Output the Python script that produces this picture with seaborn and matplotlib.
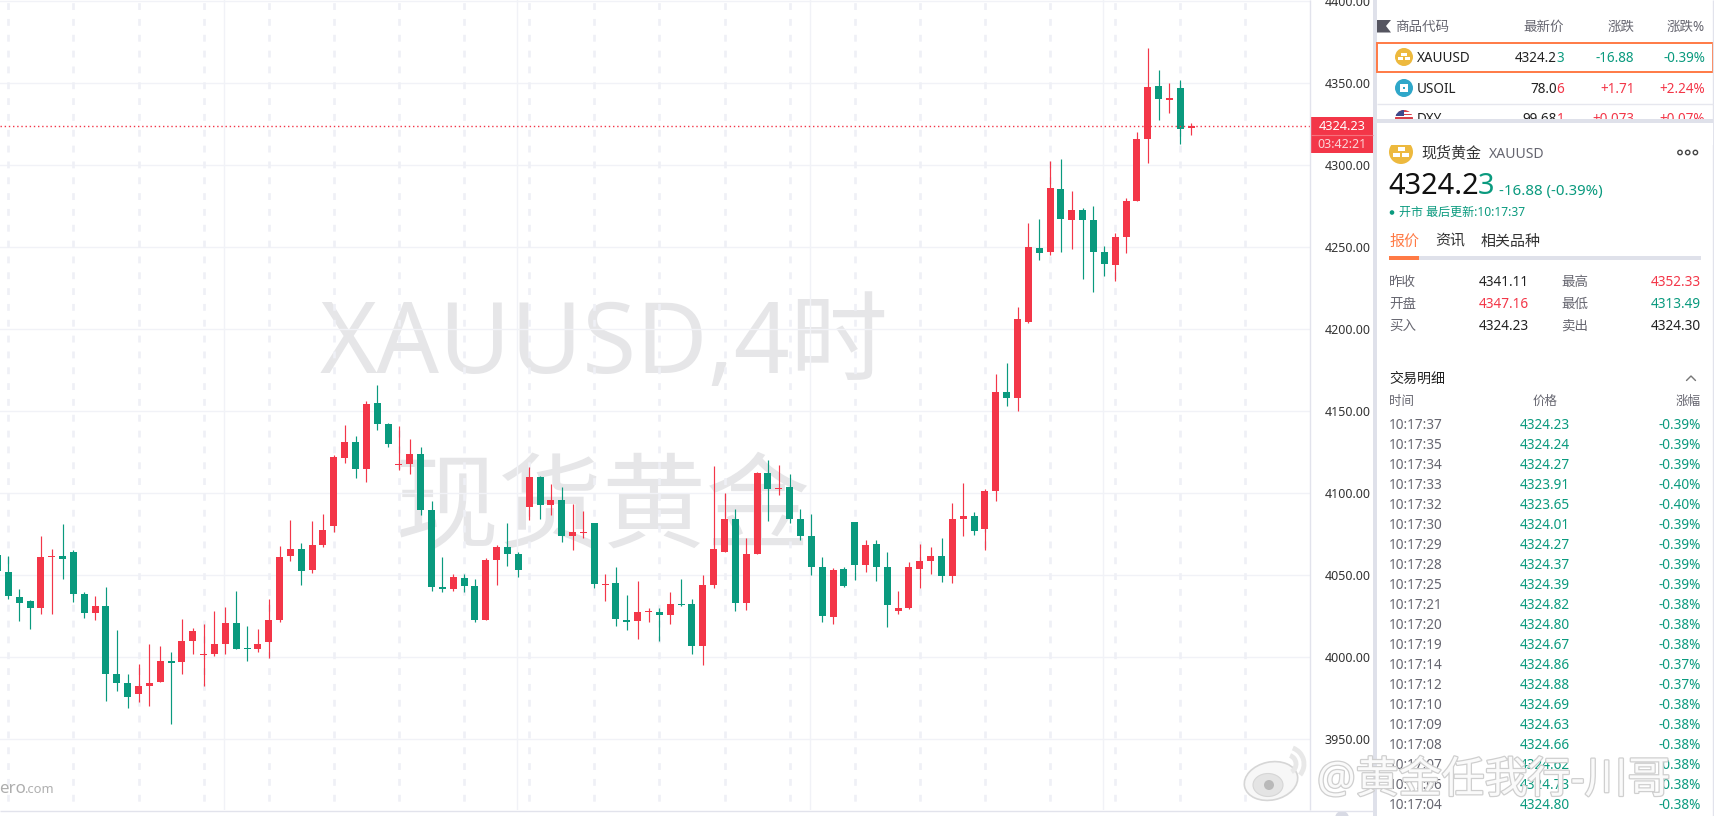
import numpy as np
import pandas as pd
import seaborn as sns
import matplotlib
matplotlib.use("Agg")
import matplotlib.pyplot as plt
import matplotlib.patheffects as pe
from matplotlib.patches import Rectangle, Circle, Ellipse, Arc

# ---------- data ----------
opens = [4062.4,
 4052.0,4036.7,4034.3,4030.0,4061.1,4061.7,4064.2,4038.6,4027.0,
 4031.3,3989.8,3984.3,3977.6,3982.5,3984.9,3997.7,3997.1,4009.9,4001.4,
 4002.0,4008.1,4020.9,4005.6,4005.0,4009.3,4022.7,4061.7,4066.0,4053.2,
 4068.5,4080.0,4121.5,4131.3,4114.8,4155.1,4142.3,4117.2,4117.9,4124.0,
 4089.8,4042.8,4041.6,4048.3,4043.4,4022.7,4059.3,4067.2,4063.0,4091.6,
 4109.9,4092.9,4095.9,4073.9,4075.8,4081.9,4044.1,4045.3,4022.7,4022.1,
 4027.6,4027.6,4025.8,4032.5,4032.5,4006.9,4044.1,4064.2,4084.3,4033.1,
 4063.0,4112.4,4102.6,4103.8,4084.3,4073.9,4055.0,4024.5,4053.8,4082.5,
 4056.3,4069.1,4054.9,4028.1,4029.9,4053.8,4058.7,4061.8,4049.6,4084.3,
 4086.2,4078.2,4101.4,4161.8,4158.1,4204.5,4249.5,4247.1,4285.5,4266.6,
 4272.7,4266.6,4247.1,4239.2,4256.3,4278.2,4316.0,4348.3,4339.8,4347.1,4322.7]
closes = [4052.8,
 4037.5,4033.3,4030.0,4061.1,4061.7,4059.9,4038.6,4027.0,4031.3,
 3989.8,3984.3,3975.8,3982.5,3984.3,3997.7,3996.5,4009.9,4016.0,4002.0,
 4008.1,4020.9,4005.0,4005.0,4008.1,4022.7,4061.1,4066.0,4052.6,4068.5,
 4077.6,4122.1,4131.3,4114.8,4154.5,4142.3,4130.1,4117.9,4124.0,4089.8,
 4042.8,4041.6,4049.0,4043.4,4022.7,4059.3,4067.2,4063.0,4053.2,4109.9,
 4092.9,4095.9,4073.9,4076.4,4076.4,4044.7,4044.7,4023.3,4021.5,4027.6,
 4028.2,4025.8,4032.5,4031.7,4006.9,4044.1,4066.0,4084.3,4033.1,4063.0,
 4112.4,4102.6,4103.2,4084.3,4073.9,4055.0,4025.2,4053.2,4043.4,4056.3,
 4068.5,4055.0,4031.7,4029.9,4054.9,4058.7,4061.8,4049.6,4084.3,4086.2,
 4077.0,4101.4,4161.8,4158.1,4206.3,4250.2,4246.5,4286.1,4267.2,4272.7,
 4266.6,4247.1,4239.8,4256.3,4278.2,4316.0,4347.7,4340.4,4341.0,4322.1,4324.0]
highs = [4064.0,
 4061.7,4041.6,4034.9,4073.9,4066.0,4081.3,4065.4,4039.8,4037.3,
 4042.8,4016.6,3989.8,3995.9,4008.1,4006.9,4003.2,4023.3,4017.8,4020.3,
 4028.2,4030.6,4040.4,4019.0,4017.2,4035.5,4067.8,4083.7,4069.7,4083.1,
 4087.4,4123.3,4141.6,4134.9,4156.3,4166.0,4142.9,4141.0,4133.1,4128.2,
 4095.3,4061.1,4050.8,4050.8,4047.7,4060.5,4068.5,4081.9,4064.2,4116.0,
 4110.5,4105.7,4103.8,4093.5,4089.2,4081.9,4050.8,4055.0,4038.0,4046.5,
 4030.0,4030.0,4039.8,4047.7,4035.5,4050.2,4116.6,4100.2,4090.4,4072.7,
 4113.0,4120.3,4117.2,4111.8,4090.4,4087.4,4061.1,4054.4,4055.0,4082.5,
 4071.5,4071.5,4064.1,4040.3,4058.0,4069.1,4067.2,4072.7,4094.1,4106.3,
 4088.6,4102.6,4172.8,4179.5,4213.6,4264.8,4267.2,4302.6,4303.8,4284.3,
 4273.9,4275.2,4250.8,4258.7,4280.0,4320.3,4371.5,4358.1,4350.2,4352.0,4325.8]
lows = [4048.0,
 4035.7,4022.3,4017.4,4026.4,4026.4,4047.7,4033.7,4023.9,4022.7,
 3973.3,3979.4,3969.0,3972.7,3970.3,3984.9,3959.3,3989.8,4002.0,3982.5,
 4000.8,4002.0,4005.0,3997.7,4003.2,3999.5,4021.5,4058.7,4044.1,4051.4,
 4067.2,4076.4,4118.5,4109.3,4106.9,4138.6,4128.2,4114.2,4111.8,4086.8,
 4040.4,4039.8,4040.4,4039.8,4021.5,4022.7,4044.1,4055.6,4048.9,4083.7,
 4084.3,4086.7,4070.3,4065.4,4072.7,4042.2,4034.3,4019.0,4016.6,4011.1,
 4021.5,4009.9,4020.3,4031.3,4002.0,3995.3,4042.2,4064.2,4028.2,4028.8,
 4063.0,4083.1,4099.0,4081.9,4071.5,4050.2,4021.5,4020.3,4042.8,4047.1,
 4052.0,4046.5,4018.3,4026.3,4029.3,4042.2,4050.8,4045.9,4045.3,4073.9,
 4074.6,4065.4,4095.3,4153.2,4150.2,4203.9,4242.2,4245.3,4247.1,4248.9,
 4230.6,4222.7,4232.5,4229.4,4246.5,4278.2,4301.4,4327.6,4331.9,4313.0,4318.5]
price_ticks = [3950, 4000, 4050, 4100, 4150, 4200, 4250, 4300, 4350, 4400]
last_price = 4324.23

watch_rows = [("XAUUSD", "4324.2", "3", "-16.88", "-0.39%"),
              ("USOIL", "78.0", "6", "+1.71", "+2.24%"),
              ("DXY", "99.68", "1", "+0.073", "+0.07%")]
quote_rows = [("昨收", "4341.11", "最高", "4352.33"),
              ("开盘", "4347.16", "最低", "4313.49"),
              ("买入", "4324.23", "卖出", "4324.30")]
trade_times = ["10:17:37","10:17:35","10:17:34","10:17:33","10:17:32","10:17:30","10:17:29",
               "10:17:28","10:17:25","10:17:21","10:17:20","10:17:19","10:17:14","10:17:12",
               "10:17:10","10:17:09","10:17:08","10:17:07","10:17:06","10:17:04"]
trade_prices = ["4324.23","4324.24","4324.27","4323.91","4323.65","4324.01","4324.27",
                "4324.37","4324.39","4324.82","4324.80","4324.67","4324.86","4324.88",
                "4324.69","4324.63","4324.66","4324.62","4324.73","4324.80"]
trade_pcts = ["-0.39%","-0.39%","-0.39%","-0.40%","-0.40%","-0.39%","-0.39%","-0.39%","-0.39%",
              "-0.38%","-0.38%","-0.38%","-0.37%","-0.37%","-0.38%","-0.38%","-0.38%","-0.38%",
              "-0.38%","-0.38%"]

# ---------- style ----------
RED, GREEN = "#f33648", "#0a9a7e"
ORANGE, GOLD, GREY = "#ff7a45", "#edb93e", "#dfe1ea"
GRID, WM = "#f1f2f7", "#e6e6e8"
DARK, MID = "#222222", "#666670"

sns.set_theme(style="white")
FONT = ["Noto Sans", "Noto Sans CJK SC"]
plt.rcParams["font.family"] = FONT
W, H = 1714, 816
fig = plt.figure(figsize=(W / 100, H / 100), dpi=100, facecolor="white")


def px_axes(z):
    a = fig.add_axes([0, 0, 1, 1], zorder=z)
    a.set_xlim(0, W)
    a.set_ylim(H, 0)
    a.axis("off")
    a.patch.set_alpha(0)
    return a


bg = px_axes(0)
top = px_axes(2)


def T(x, y, s, px=13.6, color=DARK, ha="left", ax=None, **kw):
    return (ax or top).text(x, y + px * 0.36, s, fontsize=px * 0.72, color=color,
                            ha=ha, va="baseline", **kw)


# big chart watermark
T(320, 337.5, "XAUUSD,4时", 98, WM, ax=bg)
T(395, 503, "现货黄金", 104, WM, ax=bg, family="Noto Sans CJK SC")

# ---------- chart ----------
ax = fig.add_axes([0, 6 / H, 1310.5 / W, 810 / H], zorder=1)
ax.patch.set_alpha(0)
df = pd.DataFrame({"i": np.arange(len(opens)), "o": opens, "h": highs, "l": lows, "c": closes})
df["up"] = df.c >= df.o
df["bottom"] = df[["o", "c"]].min(axis=1)
df["height"] = (df.o - df.c).abs()

ax.hlines(price_ticks, -5, 130, color=GRID, lw=1, zorder=1)
ax.vlines(np.arange(1, 121, 6), 3800, 4500, color="#eff0f6", lw=1.9, linestyles=(0, (2.6, 3.4)), zorder=1)
ax.vlines(np.arange(20.9, 121, 27), 3800, 4500, color=GRID, lw=1, zorder=1)
ax.vlines(df.i, df.l, df.h, colors=np.where(df.up, RED, GREEN), lw=0.85, zorder=3)
for is_up, col in ((True, RED), (False, GREEN)):
    sub = df[df.up == is_up]
    sns.barplot(data=sub, x="i", y="height", bottom=sub["bottom"].values, native_scale=True,
                width=0.645, color=col, saturation=1, errorbar=None, linewidth=0,
                legend=False, ax=ax, zorder=4)
ax.axhline(last_price, color=RED, lw=1, ls=(0, (1, 2)), zorder=5)

ax.set_xlim(0.235, 121.0)
ax.set_ylim(3906.9, 4400.8)
ax.set_xlabel("")
ax.set_ylabel("")
ax.set_xticks([])
ax.set_yticks(price_ticks, [f"{p:.2f}" for p in price_ticks])
ax.yaxis.tick_right()
ax.tick_params(axis="y", length=0, pad=10, labelsize=9, labelcolor="#333333")
for s in ax.spines.values():
    s.set_visible(False)

T(-1, 787, "ero", 17, "#aeaeae", ax=top, fontweight="bold")
T(24, 788, ".com", 13, "#b0b0b0", ax=top)

# ---------- frame ----------
top.vlines(1310.5, 0, 810, color="#e2e3ec", lw=1)
top.hlines(810.5, 0, 1373, color="#e2e3ec", lw=1)
top.add_patch(Rectangle((1373, 0), 4, H, color=GREY, lw=0))
top.vlines(1713.5, 0, H, color="#e2e3ec", lw=1)
top.add_patch(Circle((1342, 818), 7, color="#d8dae4", lw=0, clip_on=True))

# price tag
top.add_patch(Rectangle((1311, 117), 62, 36, color=RED, lw=0))
top.hlines(134.5, 1311, 1373, color="#f6717d", lw=0.8)
T(1342, 125.5, "4324.23", 12.8, "white", ha="center", zorder=5)
T(1342, 143.5, "03:42:21", 12.5, "#fbd5d8", ha="center", zorder=5)


def gold_icon(cx, cy, r):
    top.add_patch(Circle((cx, cy), r, color=GOLD, lw=0))
    u = r / 9
    for dx, dy in ((-2.6, -3.6), (-6.2, 0.4), (0.9, 0.4)):
        top.add_patch(Rectangle((cx + dx * u, cy + dy * u), 5.3 * u, 3 * u, color="white", lw=0))


# ---------- watchlist ----------
top.add_patch(plt.Polygon([(1377, 20), (1391, 20), (1386, 26), (1391, 32.5), (1377, 32.5)], color="#555560", lw=0))
T(1395, 26, "商品代码", 13.5, MID)
T(1564, 26, "最新价", 13.5, MID, ha="right")
T(1634.5, 26, "涨跌", 13.5, MID, ha="right")
T(1705, 26, "涨跌%", 13.5, MID, ha="right")

top.add_patch(Rectangle((1377.5, 42.5), 335.5, 29, fill=False, ec=ORANGE, lw=1.4))
top.hlines([103.5], 1377, 1713, color="#e6e7ee", lw=1)
gold_icon(1404, 57, 9)
top.add_patch(Circle((1404, 88), 9, color="#2fa7c9", lw=0))
top.add_patch(Rectangle((1400, 84), 8, 8, color="white", lw=0))
top.add_patch(Rectangle((1402.7, 86.7), 2.6, 2.6, color="#2fa7c9", lw=0))
flag = Circle((1404, 119), 9, color="white", lw=0)
top.add_patch(flag)
for yy in (110, 113.5, 117):
    r_ = Rectangle((1394, yy), 20, 1.8, color="#d8404a", lw=0)
    top.add_patch(r_)
    r_.set_clip_path(flag)
b_ = Rectangle((1394, 109), 10, 7, color="#3c4a8c", lw=0)
top.add_patch(b_)
b_.set_clip_path(flag)

for k, (name, head, tail, chg, pct) in enumerate(watch_rows):
    y = [57.5, 88.5, 118.5][k]
    col = GREEN if chg[0] == "-" else RED
    T(1417, y, name, 13.5, DARK)
    T(1564, y, tail, 13.5, col, ha="right")
    T(1557, y, head, 13.5, DARK, ha="right")
    T(1634.5, y, chg, 13.5, col, ha="right")
    T(1705, y, pct, 13.5, col, ha="right")

# cover that clips the third row
top.add_patch(Rectangle((1377, 119), 336, 4, color=GREY, lw=0, zorder=4))
top.add_patch(Rectangle((1377, 123), 336, 22, color="white", lw=0, zorder=4))

# ---------- detail ----------
gold_icon(1401, 152, 12)
T(1421, 152, "现货黄金", 15, "#333333")
T(1489, 153, "XAUUSD", 14, MID)
for dx in (1680, 1687.7, 1695.4):
    top.add_patch(Circle((dx, 152.5), 2.2, fill=False, ec="#444444", lw=1))

T(1479, 184, "4324.2", 29, "#111111", ha="right")
T(1477.5, 184, "3", 29, GREEN)
T(1499, 190, "-16.88 (-0.39%)", 15, GREEN)

top.add_patch(Circle((1392, 212.5), 2.3, color=GREEN, lw=0))
T(1399, 212, "开市 最后更新:10:17:37", 12, GREEN)

T(1389, 240.5, "报价", 15, ORANGE)
T(1435, 240.5, "资讯", 15, "#333333")
T(1481, 240.5, "相关品种", 15, "#333333")
top.add_patch(Rectangle((1389, 256), 312, 4, color=GREY, lw=0))
top.add_patch(Rectangle((1389, 256), 30, 4, color=ORANGE, lw=0))

q_col = {"4347.16": RED, "4352.33": RED, "4313.49": GREEN}
for k, (a, b, c, d) in enumerate(quote_rows):
    y = 281 + k * 22
    T(1389, y, a, 13.5, MID)
    T(1479, y, b, 13.6, q_col.get(b, DARK))
    T(1561, y, c, 13.5, MID)
    T(1701, y, d, 13.6, q_col.get(d, DARK), ha="right")

# ---------- trades ----------
T(1389, 378, "交易明细", 14, "#222222")
top.plot([1686.5, 1691, 1695.5], [380.5, 376, 380.5], color="#777777", lw=1)
T(1389, 400.5, "时间", 12.5, MID)
T(1545, 400.5, "价格", 12.5, MID, ha="center")
T(1701, 400.5, "涨幅", 12.5, MID, ha="right")
for k, (t, p, c) in enumerate(zip(trade_times, trade_prices, trade_pcts)):
    y = 424 + k * 20
    T(1389, y, t, 13.6, MID)
    T(1545, y, p, 13.6, GREEN, ha="center")
    T(1701, y, c, 13.6, GREEN, ha="right")

# ---------- weibo mark ----------
mark = [pe.withStroke(linewidth=1.8, foreground="#cfcfcf")]
T(1317, 777, "@黄金任我行-川哥", 43, "#fafafa", zorder=8, path_effects=mark)
body = Ellipse((1271, 781), 54, 38, angle=-12, fc="#f7f7f7", ec="#d6d6d6", lw=1.2, zorder=8)
top.add_patch(body)
top.add_patch(Ellipse((1268, 785), 30, 23, fc="#e4e4e4", ec="#d6d6d6", lw=0.8, zorder=8))
top.add_patch(Circle((1269, 785), 5, fc="#b9b9b9", lw=0, zorder=8))
top.add_patch(Arc((1287, 764), 18, 18, theta1=-70, theta2=60, color="#e8e8e8", lw=3.5, zorder=8))
top.add_patch(Arc((1287, 764), 34, 34, theta1=-70, theta2=40, color="#e8e8e8", lw=3.5, zorder=8))

fig.savefig("out.png", dpi=100, facecolor="white")
